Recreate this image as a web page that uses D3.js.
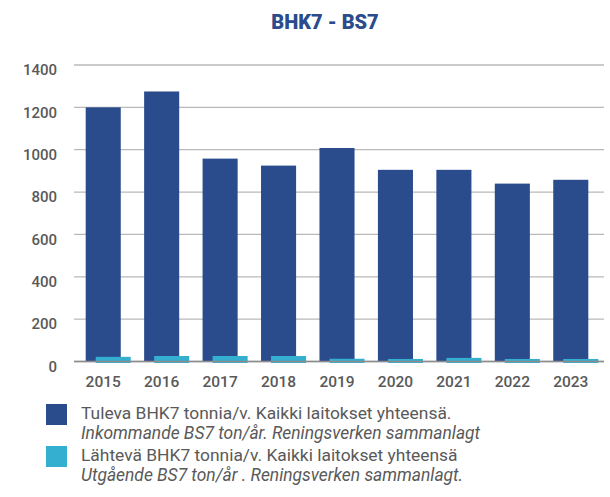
<!DOCTYPE html>
<html>
<head>
<meta charset="utf-8">
<script src="https://cdn.jsdelivr.net/npm/d3@7"></script>
<style>
  body { margin: 0; background: #fff; }
  text { font-family: Roboto, "Noto Sans", sans-serif; }
</style>
</head>
<body>
<div id="chart"></div>
<script>
var years = ["2015", "2016", "2017", "2018", "2019", "2020", "2021", "2022", "2023"];
var incoming = [1200, 1275, 958, 925, 1008, 905, 905, 840, 858];
var outgoing = [22, 26, 26, 26, 13, 12, 17, 12, 12];
var yTicks = [0, 200, 400, 600, 800, 1000, 1200, 1400];
var legendLines = [
  ["Tuleva BHK7 tonnia/v. Kaikki laitokset yhteensä.", "Inkommande BS7 ton/år. Reningsverken sammanlagt"],
  ["Lähtevä BHK7 tonnia/v. Kaikki laitokset yhteensä", "Utgående BS7 ton/år . Reningsverken sammanlagt."]
];

var colors = ["#2a4b8c", "#35afd0"];

var width = 610, height = 497;
var margin = {top: 65, right: 10, bottom: 135, left: 74};

var svg = d3.select("#chart").append("svg")
    .attr("width", width)
    .attr("height", height);

var x = d3.scaleBand()
    .domain(years)
    .range([margin.left, 600])
    .paddingInner(0.4)
    .paddingOuter(0.2);

var y = d3.scaleLinear()
    .domain([0, 1400])
    .range([361.5, 65]);

// gridlines
svg.append("g")
    .selectAll("line")
    .data(yTicks)
    .enter()
    .append("line")
    .attr("x1", margin.left)
    .attr("x2", 604)
    .attr("y1", function (d) { return y(d); })
    .attr("y2", function (d) { return y(d); })
    .style("stroke", "#b9b9b9")
    .style("stroke-width", 1.3);

// y axis labels
var yAxis = d3.axisLeft(y)
    .tickValues(yTicks)
    .tickFormat(d3.format("d"))
    .tickSize(0)
    .tickPadding(17);

var gy = svg.append("g")
    .attr("transform", "translate(" + margin.left + ",0)")
    .call(yAxis);
gy.select(".domain").remove();
gy.selectAll("text")
    .attr("dy", "0.65em")
    .style("font-size", "15px")
    .style("font-weight", "500")
    .style("fill", "#595959");

// bars
var dataRows = years.map(function (d, i) {
  return {year: d, a: incoming[i], b: outgoing[i]};
});

svg.append("g")
    .selectAll("rect")
    .data(dataRows)
    .enter()
    .append("rect")
    .attr("x", function (d) { return x(d.year); })
    .attr("y", function (d) { return y(d.a); })
    .attr("width", x.bandwidth())
    .attr("height", function (d) { return y(0) - y(d.a); })
    .style("fill", colors[0]);

svg.append("g")
    .selectAll("rect")
    .data(dataRows)
    .enter()
    .append("rect")
    .attr("x", function (d) { return x(d.year) + 10; })
    .attr("y", function (d) { return y(d.b); })
    .attr("width", x.bandwidth())
    .attr("height", function (d) { return y(0) - y(d.b) + 1.5; })
    .style("fill", colors[1]);

// baseline
svg.append("line")
    .attr("x1", margin.left)
    .attr("x2", 604)
    .attr("y1", y(0))
    .attr("y2", y(0))
    .style("stroke", "#8c8c8c")
    .style("stroke-width", 1.3);

// x axis labels
var xAxis = d3.axisBottom(x)
    .tickSize(0)
    .tickPadding(14);

var gx = svg.append("g")
    .attr("transform", "translate(0," + y(0) + ")")
    .call(xAxis);
gx.select(".domain").remove();
gx.selectAll("text")
    .style("font-size", "15.5px")
    .style("font-weight", "500")
    .style("fill", "#595959");

// title
svg.append("text")
    .attr("x", 325)
    .attr("y", 29)
    .attr("text-anchor", "middle")
    .style("font-size", "20px")
    .style("font-weight", "900")
    .style("fill", "#2a4b8c")
    .text("BHK7 - BS7");

// legend
var legend = svg.append("g")
    .selectAll("g")
    .data(legendLines)
    .enter()
    .append("g")
    .attr("transform", function (d, i) { return "translate(46," + (404 + i * 42) + ")"; });

legend.append("rect")
    .attr("width", 21)
    .attr("height", 21)
    .style("fill", function (d, i) { return colors[i]; });

legend.append("text")
    .attr("x", 35)
    .attr("y", 15)
    .style("font-size", "17.4px")
    .style("fill", "#595959")
    .text(function (d) { return d[0]; });

legend.append("text")
    .attr("x", 35)
    .attr("y", 35)
    .style("font-size", "17.4px")
    .style("font-style", "italic")
    .style("fill", "#595959")
    .text(function (d) { return d[1]; });
</script>
</body>
</html>
